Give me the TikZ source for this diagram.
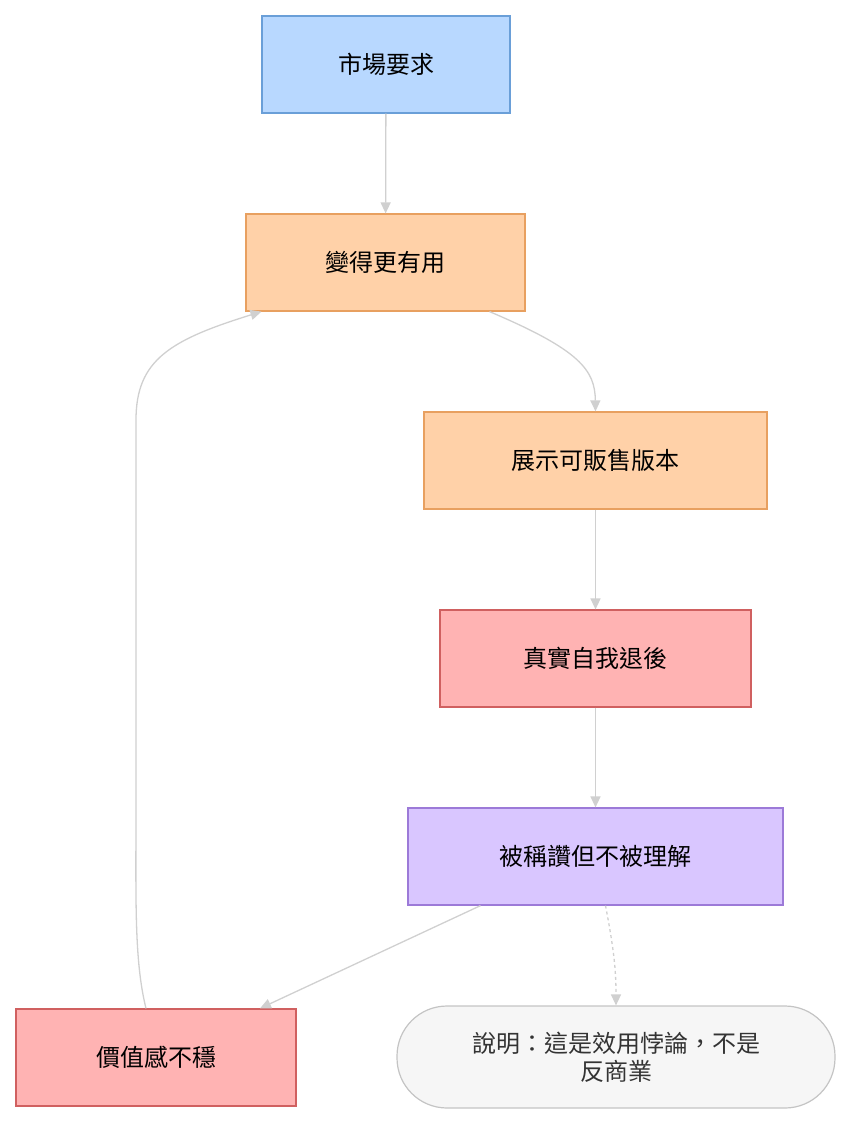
\documentclass[tikz,border=0pt]{standalone}
\usepackage{fontspec}
\setmainfont{Noto Sans CJK TC}
\usetikzlibrary{arrows.meta}
\definecolor{bluef}{HTML}{B8D8FF}\definecolor{blued}{HTML}{6A9FD8}
\definecolor{orf}{HTML}{FFD1A8}\definecolor{ord}{HTML}{E8A060}
\definecolor{redf}{HTML}{FFB3B3}\definecolor{redd}{HTML}{D06060}
\definecolor{purf}{HTML}{D9C6FF}\definecolor{purd}{HTML}{9C7AD8}
\definecolor{notef}{HTML}{F6F6F6}\definecolor{noted}{HTML}{C4C4C4}
\definecolor{edge}{HTML}{D0D0D0}
\tikzset{
 box/.style={draw, line width=1.2pt, minimum height=97pt, inner sep=0pt, font=\fontsize{24}{28}\selectfont},
 arr/.style={draw=edge, line width=1.3pt, -{Triangle[length=11pt,width=10pt]}},
}
\begin{document}
\begin{tikzpicture}[x=1pt,y=-1pt]
\useasboundingbox (0,0) rectangle (852,1126);
\node[box,fill=bluef,draw=blued,minimum width=248pt] (a) at (386,64.5) {市場要求};
\node[box,fill=orf,draw=ord,minimum width=279pt] (b) at (385.5,262.5) {變得更有用};
\node[box,fill=orf,draw=ord,minimum width=343pt] (c) at (595.5,460.5) {展示可販售版本};
\node[box,fill=redf,draw=redd,minimum width=311pt] (d) at (595.5,658.5) {真實自我退後};
\node[box,fill=purf,draw=purd,minimum width=375pt] (e) at (595.5,856.5) {被稱讚但不被理解};
\node[box,fill=redf,draw=redd,minimum width=280pt] (f) at (156,1057.5) {價值感不穩};
\node[box,fill=notef,draw=noted,minimum width=438pt,minimum height=102pt,rounded corners=50pt,align=center,text=black!80] (g) at (616,1057) {說明：這是效用悖論，不是\\反商業};
\draw[arr] (a) -- (b);
\draw[arr] ([xshift=104pt]b.south) .. controls (580,350) and (595,370) .. (c.north);
\draw[arr] (c) -- (d);
\draw[arr] (d) -- (e);
\draw[arr] ([xshift=-115pt]e.south) -- ([xshift=104pt]f.north);
\draw[arr,dashed] ([xshift=10pt]e.south) .. controls (614,950) and (616,970) .. (g.north);
\draw[arr] ([xshift=-10pt]f.north) .. controls (134,960) and (136,900) .. (136,800) -- (136,420) .. controls (136,360) and (170,340) .. ([xshift=-124pt]b.south);
\end{tikzpicture}
\end{document}
